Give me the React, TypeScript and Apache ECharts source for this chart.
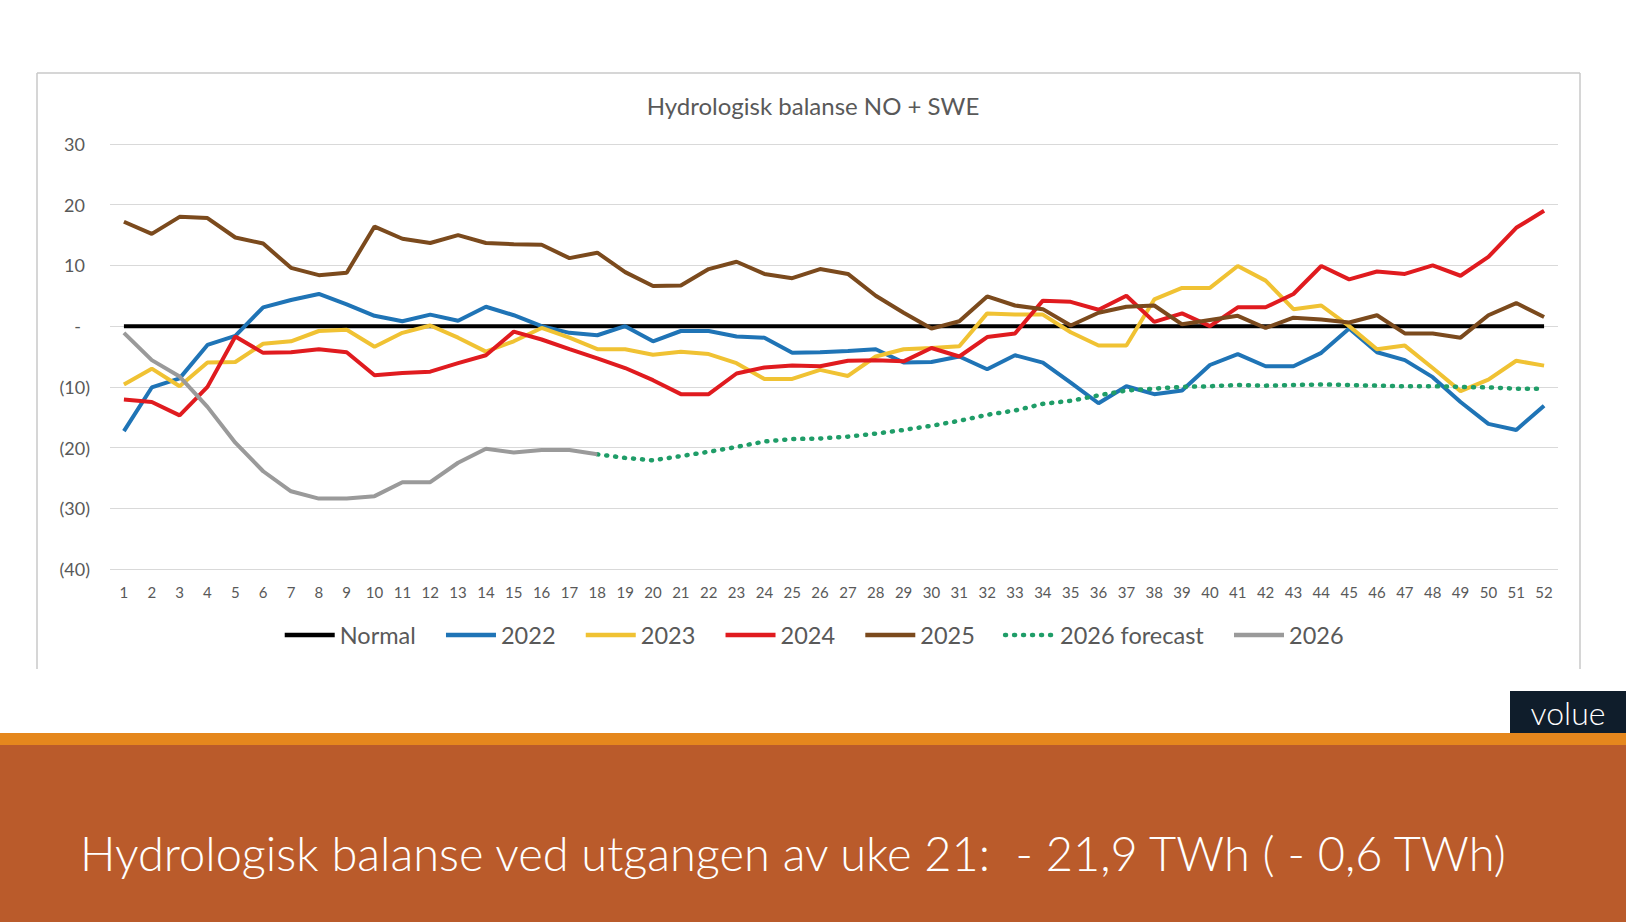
import React, { useEffect, useRef } from "react";
import * as echarts from "echarts";

const weeks = Array.from({ length: 52 }, (_, i) => String(i + 1));

const normal = weeks.map(() => 0);

const y2022 = [
  -17.3, -10.1, -8.6, -3.1, -1.6, 3.1, 4.3, 5.3, 3.6, 1.7, 0.8, 1.9, 0.9, 3.2, 1.8, 0, -1.1, -1.5, 0, -2.5,
  -0.8, -0.8, -1.7, -1.9, -4.4, -4.3, -4.1, -3.8, -6, -5.9, -5, -7.1, -4.8, -6, -9.3, -12.7, -9.9, -11.2, -10.6, -6.4,
  -4.6, -6.6, -6.6, -4.4, -0.4, -4.3, -5.6, -8.4, -12.5, -16.1, -17.1, -13.1,
];

const y2023 = [
  -9.6, -7, -9.9, -6, -5.9, -2.9, -2.5, -0.8, -0.6, -3.4, -1.1, 0.1, -1.9, -4.2, -2.5, -0.3, -1.9, -3.8, -3.8, -4.7,
  -4.2, -4.6, -6.1, -8.7, -8.7, -7.2, -8.2, -5, -3.8, -3.6, -3.3, 2.1, 1.9, 1.9, -1, -3.2, -3.2, 4.4, 6.3, 6.3,
  9.9, 7.5, 2.8, 3.4, 0, -3.8, -3.2, -6.9, -10.7, -8.8, -5.7, -6.5,
];

const y2024 = [
  -12.1, -12.5, -14.7, -10, -1.7, -4.4, -4.3, -3.8, -4.3, -8.1, -7.7, -7.5, -6.1, -4.8, -0.9, -2.2, -3.8, -5.3, -6.9, -8.9,
  -11.2, -11.2, -7.8, -6.8, -6.5, -6.6, -5.7, -5.6, -5.8, -3.6, -5, -1.8, -1.2, 4.2, 4, 2.7, 5, 0.7, 2.1, 0,
  3.1, 3.1, 5.3, 9.9, 7.7, 9, 8.6, 10, 8.3, 11.4, 16.2, 19,
];

const y2025 = [
  17.2, 15.2, 18, 17.8, 14.6, 13.6, 9.6, 8.4, 8.8, 16.4, 14.4, 13.7, 15, 13.7, 13.5, 13.4, 11.2, 12.1, 8.9, 6.6,
  6.7, 9.4, 10.6, 8.6, 7.9, 9.4, 8.6, 5, 2.2, -0.4, 0.8, 4.9, 3.4, 2.8, 0.1, 2.2, 3.2, 3.4, 0.3, 1,
  1.7, -0.3, 1.4, 1.1, 0.6, 1.8, -1.2, -1.2, -1.9, 1.8, 3.8, 1.5,
];

// 2026 actuals up to week 18
const y2026 = [
  -1.1, -5.6, -8.3, -13.3, -19.2, -23.9, -27.2, -28.4, -28.4, -28, -25.7, -25.7, -22.5, -20.2, -20.8, -20.4, -20.4, -21.1,
];

// forecast from week 18 to week 52
const forecast2026 = [
  -21.1, -21.7, -22.1, -21.4, -20.7, -19.9, -19, -18.6, -18.5, -18.2, -17.7, -17.1, -16.4, -15.6, -14.6, -13.9, -12.8, -12.3,
  -11.4, -10.6, -10.3, -10, -9.9, -9.7, -9.8, -9.7, -9.6, -9.7, -9.8, -9.9, -9.9, -10, -10.1, -10.3, -10.3,
];

const FONT = "Lato";
const TEXT = "#595959";

function yLabel(v: number) {
  if (v === 0) return "{z|-}";
  if (v < 0) return `(${-v})`;
  return `{p|${v}}`;
}

export default function App() {
  const chartRef = useRef<HTMLDivElement>(null);

  useEffect(() => {
    if (!chartRef.current) return;
    const chart = echarts.init(chartRef.current, null, { renderer: "svg" });

    const actual = weeks.map((_, i) => (i < y2026.length ? y2026[i] : null));
    const start = weeks.length - forecast2026.length;
    const forecast = weeks.map((_, i) => (i >= start ? forecast2026[i - start] : null));

    const line = (name: string, data: (number | null)[], color: string, extra: any = {}) => ({
      name,
      type: "line",
      data,
      symbol: "none",
      connectNulls: false,
      lineStyle: { color, width: 4, ...extra },
      itemStyle: { color },
    });

    chart.setOption({
      animation: false,
      backgroundColor: "#ffffff",
      title: {
        text: "Hydrologisk balanse NO + SWE",
        left: "center",
        top: 88,
        textStyle: { fontFamily: FONT, fontSize: 24, fontWeight: "normal", color: TEXT },
      },
      legend: {
        left: "center",
        top: 618,
        itemWidth: 50,
        itemHeight: 14,
        itemGap: 28,
        itemStyle: { opacity: 0 },
        lineStyle: { width: 4.5 },
        textStyle: { fontFamily: FONT, fontSize: 23.5, color: TEXT },
        data: ["Normal", "2022", "2023", "2024", "2025", "2026 forecast", "2026"],
      },
      grid: { left: 110, right: 68, top: 144, bottom: 353 },
      xAxis: {
        type: "category",
        data: weeks,
        boundaryGap: true,
        axisLine: { show: false },
        axisTick: { show: false },
        axisLabel: { fontFamily: FONT, fontSize: 15, color: TEXT, margin: 15, interval: 0 },
      },
      yAxis: {
        type: "value",
        min: -40,
        max: 30,
        interval: 10,
        axisLine: { show: false },
        axisTick: { show: false },
        splitLine: { lineStyle: { color: "#d9d9d9", width: 1 } },
        axisLabel: {
          fontFamily: FONT,
          fontSize: 18,
          color: TEXT,
          margin: 20,
          formatter: yLabel,
          rich: {
            p: { fontFamily: FONT, fontSize: 18, color: TEXT, padding: [0, 5, 0, 0] },
            z: { fontFamily: FONT, fontSize: 18, color: TEXT, padding: [0, 9, 0, 0] },
          },
        },
      },
      series: [
        line("Normal", normal, "#000000"),
        line("2022", y2022, "#1f74b6"),
        line("2023", y2023, "#f0c233"),
        line("2024", y2024, "#e01b1f"),
        line("2025", y2025, "#7b4a1d"),
        line("2026 forecast", forecast, "#1f9d68", { type: [1, 8], cap: "round", width: 4.5 }),
        line("2026", actual, "#9a9a9a"),
      ],
      graphic: [
        { type: "line", shape: { x1: 37, y1: 73, x2: 1580, y2: 73 }, style: { stroke: "#c8c8c8", lineWidth: 1.5 } },
        { type: "line", shape: { x1: 37, y1: 73, x2: 37, y2: 669 }, style: { stroke: "#c8c8c8", lineWidth: 1.5 } },
        { type: "line", shape: { x1: 1580, y1: 73, x2: 1580, y2: 669 }, style: { stroke: "#c8c8c8", lineWidth: 1.5 } },
        { type: "rect", shape: { x: 1510, y: 691, width: 116, height: 42 }, style: { fill: "#0f1d2b" } },
        {
          type: "text",
          x: 1568,
          y: 712,
          style: { text: "volue", fill: "#ffffff", font: `300 32px ${FONT}`, align: "center", verticalAlign: "middle" },
        },
        { type: "rect", shape: { x: 0, y: 733, width: 1626, height: 12 }, style: { fill: "#e5871d" } },
        { type: "rect", shape: { x: 0, y: 745, width: 1626, height: 177 }, style: { fill: "#ba5b2b" } },
        {
          type: "text",
          x: 80,
          y: 853,
          style: {
            text: "Hydrologisk balanse ved utgangen av uke 21:  - 21,9 TWh ( - 0,6 TWh)",
            fill: "#ffffff",
            font: `300 47px ${FONT}`,
            verticalAlign: "middle",
          },
        },
      ],
    });

    return () => chart.dispose();
  }, []);

  return (
    <div
      ref={chartRef}
      style={{ position: "absolute", left: 0, top: 0, width: 1626, height: 922 }}
    />
  );
}
